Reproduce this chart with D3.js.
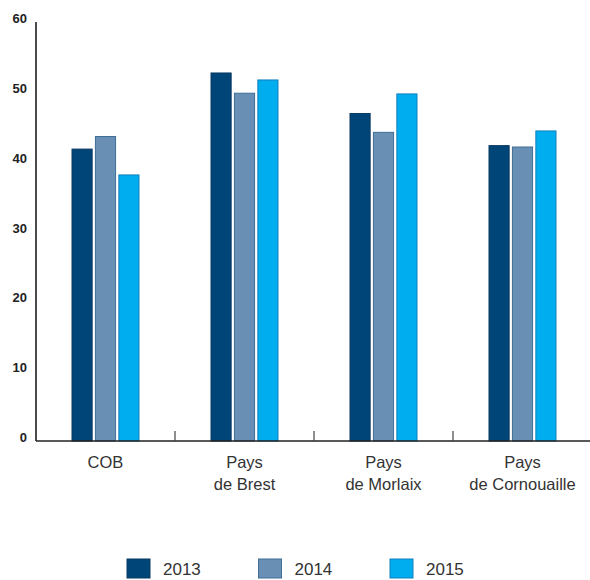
<!DOCTYPE html>
<html>
<head>
    <meta charset="utf-8">
    <style>
        html, body {
            margin: 0;
            padding: 0;
            background: #fff;
        }

        svg {
            font-family: "Liberation Sans", Arial, sans-serif;
        }
    </style>
</head>
<body>
<svg id="chart" width="590" height="580"></svg>

<script src="https://cdn.jsdelivr.net/npm/d3@7"></script>
<script>
    "use strict";

    // data
    const categories = [["COB"], ["Pays", "de Brest"], ["Pays", "de Morlaix"], ["Pays", "de Cornouaille"]];
    const years = ["2013", "2014", "2015"];
    const values2013 = [41.8, 52.7, 46.9, 42.3];
    const values2014 = [43.6, 49.8, 44.2, 42.1];
    const values2015 = [38.1, 51.7, 49.7, 44.4];
    const yTicks = [0, 10, 20, 30, 40, 50, 60];

    const fills = ["#004577", "#6990b4", "#00adef"];
    const strokes = ["#0b3a63", "#3f6d96", "#137fbd"];

    const series = [values2013, values2014, values2015];

    const LEFT = 36;
    const RIGHT = 592;
    const TOP = 22;
    const BOTTOM = 441;

    const svg = d3.select('#chart');

    const x = d3.scaleBand()
        .domain(d3.range(categories.length))
        .range([LEFT, RIGHT]);

    const xInner = d3.scaleBand()
        .domain(years)
        .range([0, 67])
        .paddingInner(0.14);

    const y = d3.scaleLinear()
        .domain([0, 60])
        .range([BOTTOM, TOP]);

    // bars
    const groups = svg.selectAll('g.group')
        .data(categories)
        .enter()
        .append('g')
        .attr('class', 'group')
        .attr('transform', function (d, i) {
            return 'translate(' + (x(i) + x.bandwidth() / 2 - 33.5) + ',0)';
        });

    groups.selectAll('rect')
        .data(function (d, i) {
            return years.map(function (yr, k) {
                return {year: yr, k: k, value: series[k][i]};
            });
        })
        .enter()
        .append('rect')
        .attr('x', function (d) { return xInner(d.year); })
        .attr('y', function (d) { return y(d.value); })
        .attr('width', xInner.bandwidth())
        .attr('height', function (d) { return BOTTOM - y(d.value); })
        .style('fill', function (d) { return fills[d.k]; })
        .style('stroke', function (d) { return strokes[d.k]; })
        .style('stroke-width', 1);

    // y axis
    svg.append('line')
        .attr('x1', LEFT).attr('x2', LEFT)
        .attr('y1', TOP).attr('y2', BOTTOM)
        .style('stroke', '#111')
        .style('stroke-width', 1.5);

    svg.selectAll('text.ylab')
        .data(yTicks)
        .enter()
        .append('text')
        .attr('class', 'ylab')
        .attr('x', 27)
        .attr('y', function (d) { return y(d) + 1; })
        .attr('text-anchor', 'end')
        .style('font-size', '13px')
        .style('font-weight', 'bold')
        .style('fill', '#222')
        .text(function (d) { return d; });

    // x axis
    svg.append('line')
        .attr('x1', LEFT).attr('x2', RIGHT)
        .attr('y1', BOTTOM).attr('y2', BOTTOM)
        .style('stroke', '#222')
        .style('stroke-width', 1.5);

    svg.selectAll('line.xtick')
        .data(d3.range(1, categories.length + 1))
        .enter()
        .append('line')
        .attr('class', 'xtick')
        .attr('x1', function (d) { return LEFT + d * x.step(); })
        .attr('x2', function (d) { return LEFT + d * x.step(); })
        .attr('y1', BOTTOM - 10)
        .attr('y2', BOTTOM)
        .style('stroke', '#444')
        .style('stroke-width', 1.2);

    const xlab = svg.selectAll('text.xlab')
        .data(categories)
        .enter()
        .append('text')
        .attr('class', 'xlab')
        .attr('text-anchor', 'middle')
        .style('font-size', '16.5px')
        .style('fill', '#333');

    xlab.selectAll('tspan')
        .data(function (d, i) {
            return d.map(function (line, j) { return {line: line, i: i, j: j}; });
        })
        .enter()
        .append('tspan')
        .attr('x', function (d) { return x(d.i) + x.bandwidth() / 2; })
        .attr('y', function (d) { return 468 + d.j * 22; })
        .text(function (d) { return d.line; });

    // legend
    const legend = svg.selectAll('g.legend')
        .data(years)
        .enter()
        .append('g')
        .attr('class', 'legend')
        .attr('transform', function (d, i) {
            return 'translate(' + (127 + i * 131.5) + ',559)';
        });

    legend.append('rect')
        .attr('width', 23)
        .attr('height', 19)
        .style('fill', function (d, i) { return fills[i]; })
        .style('stroke', function (d, i) { return strokes[i]; });

    legend.append('text')
        .attr('x', 36)
        .attr('y', 16)
        .style('font-size', '17px')
        .style('fill', '#333')
        .text(function (d) { return d; });
</script>
</body>
</html>
